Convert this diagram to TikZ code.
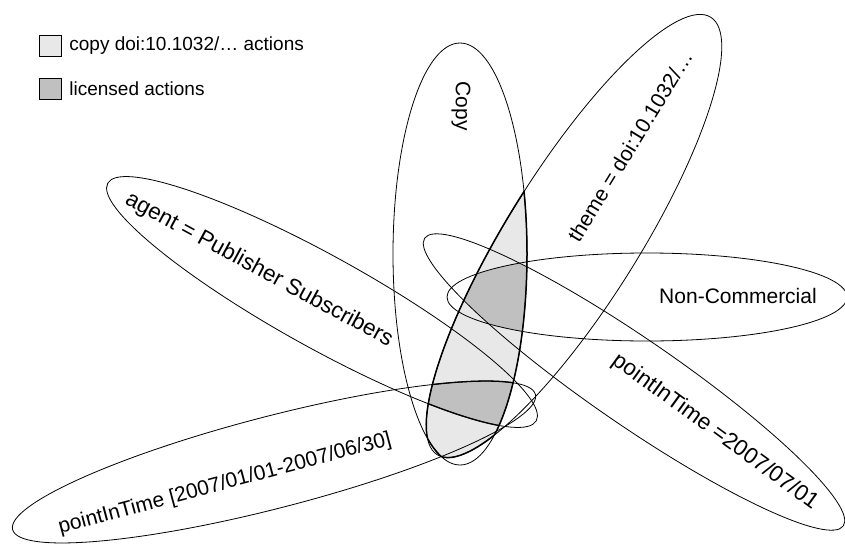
\documentclass[tikz,border=0pt]{standalone}
\usepackage{fontspec}
\setmainfont{Liberation Sans}
\definecolor{lightg}{HTML}{E8E8E8}
\definecolor{darkg}{HTML}{C0C0C0}
\begin{document}
\begin{tikzpicture}[x=1pt,y=-1pt,line width=0.8pt,
  lbl/.style={font=\fontsize{21}{25}\selectfont,inner sep=0pt},
  lblbig/.style={font=\fontsize{22.5}{27}\selectfont,inner sep=0pt},
  leg/.style={font=\fontsize{19}{23}\selectfont,inner sep=0pt,anchor=west},
  legbox/.style={draw,line width=0.8pt,minimum width=22pt,minimum height=21pt,inner sep=0pt},
  copyE/.style={insert path={(460,254) circle[x radius=67,y radius=211]}},
  themeE/.style={insert path={(574,236) circle[x radius=258,y radius=66,rotate=58]}},
  ncE/.style={insert path={(647,297) circle[x radius=200,y radius=44]}},
  ptwoE/.style={insert path={(634,382) circle[x radius=254,y radius=43,rotate=-34.5]}},
  agentE/.style={insert path={(322,302) circle[x radius=245,y radius=46,rotate=-29]}},
  poneE/.style={insert path={(274,462) circle[x radius=270,y radius=46,rotate=14.5]}},
  bold/.style={line width=1.5pt}]
\useasboundingbox (0,0) rectangle (845,546);
% light region: copy and theme
\begin{scope}
  \clip[copyE];
  \path[fill=lightg,themeE];
\end{scope}
% dark region 1: copy, theme, non-commercial, pointInTime 2007/07/01
\begin{scope}
  \clip[copyE];
  \clip[themeE];
  \clip[ncE];
  \path[fill=darkg,ptwoE];
\end{scope}
% dark region 2: copy, theme, pointInTime range, agent
\begin{scope}
  \clip[copyE];
  \clip[themeE];
  \clip[poneE];
  \path[fill=darkg,agentE];
\end{scope}
% outlines
\draw[copyE];
\draw[themeE];
\draw[ncE];
\draw[ptwoE];
\draw[agentE];
\draw[poneE];
% bold boundaries
\begin{scope}
  \clip[copyE];
  \draw[bold,themeE];
\end{scope}
\begin{scope}
  \clip[themeE];
  \draw[bold,copyE];
\end{scope}
\begin{scope}
  \clip[copyE];
  \clip[themeE];
  \clip[poneE];
  \draw[line width=1.3pt,agentE];
\end{scope}
\begin{scope}
  \clip[copyE];
  \clip[themeE];
  \clip[agentE];
  \draw[line width=1.3pt,poneE];
\end{scope}
% labels
\node[lbl,rotate=-90] (tcopy) at (461,106) {Copy};
\node[lbl,rotate=58.5] (ttheme) at (630,146) {theme = doi:10.1032/…};
\node[lbl] (tnc) at (738,296) {Non-Commercial};
\node[lblbig,rotate=-36] (tptwo) at (715,432) {pointInTime =2007/07/01};
\node[lblbig,rotate=-28.5] (tagent) at (259,270) {agent = Publisher Subscribers};
\node[lbl,rotate=15] (tpone) at (225,484) {pointInTime [2007/01/01-2007/06/30]};
% legend
\node[legbox,fill=lightg] (b1) at (50,46) {};
\node[legbox,fill=darkg] (b2) at (50,89) {};
\node[leg] (l1) at (69,46) {copy doi:10.1032/… actions};
\node[leg] (l2) at (69,89) {licensed actions};
\end{tikzpicture}
\end{document}
